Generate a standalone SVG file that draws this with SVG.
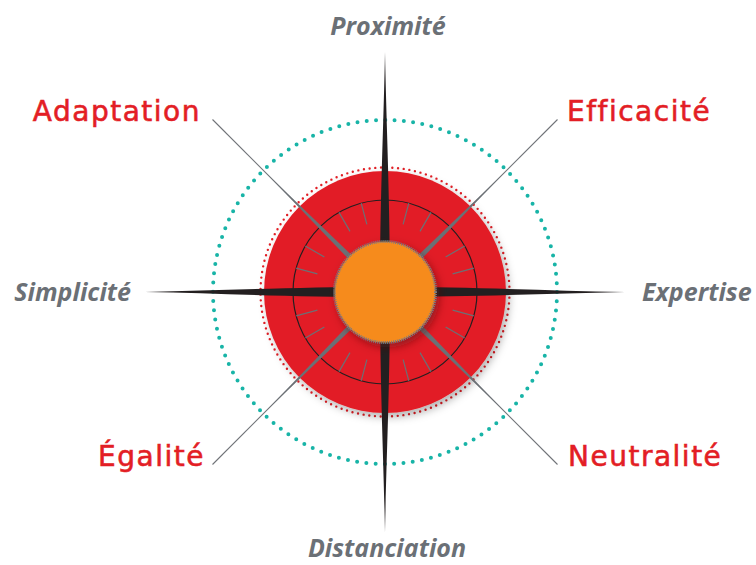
<svg xmlns="http://www.w3.org/2000/svg" width="756" height="565" viewBox="0 0 756 565">
  <defs>
    <style>
      .axis { font-family: "Open Sans", "Liberation Sans", sans-serif; font-weight: 700; font-style: italic; font-size: 25px; fill: #6b7076; }
      .value { font-family: "DejaVu Sans", "Liberation Sans", sans-serif; font-size: 28px; letter-spacing: 1.5px; fill: #e31e25; stroke: #e31e25; stroke-width: 0.6px; }
      .tick { stroke: #6d7075; stroke-width: 1.2; }
      .guide { stroke: #707378; stroke-width: 1.1; }
      .spike { fill: #6b7075; }
      .needle { fill: #231f20; }
    </style>
    <filter id="discShadow" x="-30%" y="-30%" width="160%" height="160%">
      <feDropShadow dx="3" dy="4" stdDeviation="4" flood-color="#000" flood-opacity="0.3"/>
    </filter>
    <filter id="hubShadow" x="-40%" y="-40%" width="180%" height="180%">
      <feDropShadow dx="3" dy="4" stdDeviation="4" flood-color="#5a0a0a" flood-opacity="0.55"/>
    </filter>
  </defs>

  <!-- outer teal dotted ring -->
  <circle cx="385" cy="292" r="172" fill="none" stroke="#18b4a7" stroke-width="4" stroke-linecap="round" stroke-dasharray="0 9.316"/>

  <!-- connectors: diagonal guide lines to the red labels -->
  <g id="connectors">
    <line class="guide" x1="212.5" y1="119.5" x2="557.5" y2="464.5"/>
    <line class="guide" x1="557.5" y1="119.5" x2="212.5" y2="464.5"/>
  </g>

  <!-- red dial -->
  <g id="dial">
    <circle cx="385" cy="292" r="124.5" fill="none" stroke="#e31e25" stroke-width="2.4" stroke-linecap="round" stroke-dasharray="0 5.71"/>
    <circle cx="385" cy="292" r="121" fill="#e21d25" filter="url(#discShadow)"/>
    <circle cx="385" cy="292" r="92" fill="none" stroke="#231f20" stroke-width="1.2"/>
    <g transform="translate(385 292)">
      <line class="tick" x1="70" y1="0" x2="92" y2="0" transform="rotate(15)"/>
      <line class="tick" x1="70" y1="0" x2="92" y2="0" transform="rotate(30)"/>
      <line class="tick" x1="70" y1="0" x2="92" y2="0" transform="rotate(60)"/>
      <line class="tick" x1="70" y1="0" x2="92" y2="0" transform="rotate(75)"/>
      <line class="tick" x1="70" y1="0" x2="92" y2="0" transform="rotate(105)"/>
      <line class="tick" x1="70" y1="0" x2="92" y2="0" transform="rotate(120)"/>
      <line class="tick" x1="70" y1="0" x2="92" y2="0" transform="rotate(150)"/>
      <line class="tick" x1="70" y1="0" x2="92" y2="0" transform="rotate(165)"/>
      <line class="tick" x1="70" y1="0" x2="92" y2="0" transform="rotate(195)"/>
      <line class="tick" x1="70" y1="0" x2="92" y2="0" transform="rotate(210)"/>
      <line class="tick" x1="70" y1="0" x2="92" y2="0" transform="rotate(240)"/>
      <line class="tick" x1="70" y1="0" x2="92" y2="0" transform="rotate(255)"/>
      <line class="tick" x1="70" y1="0" x2="92" y2="0" transform="rotate(285)"/>
      <line class="tick" x1="70" y1="0" x2="92" y2="0" transform="rotate(300)"/>
      <line class="tick" x1="70" y1="0" x2="92" y2="0" transform="rotate(330)"/>
      <line class="tick" x1="70" y1="0" x2="92" y2="0" transform="rotate(345)"/>
    </g>
  </g>

  <!-- grey diagonal spikes -->
  <g id="spikes" transform="translate(385 292)">
    <path class="spike" d="M-170,0 L0,-3.5 L170,0 L0,3.5 Z" transform="rotate(45)"/>
    <path class="spike" d="M-170,0 L0,-3.5 L170,0 L0,3.5 Z" transform="rotate(-45)"/>
  </g>

  <!-- black compass needles -->
  <g id="needles">
    <path class="needle" d="M385,52 C386.5,130 390,200 390,292 C390,384 386.5,454 385,532 C383.5,454 380,384 380,292 C380,200 383.5,130 385,52 Z"/>
    <path class="needle" d="M145,292 C223,290.5 293,287 385,287 C477,287 547,290.5 625,292 C547,293.5 477,297 385,297 C293,297 223,293.5 145,292 Z"/>
  </g>

  <!-- orange hub with serrated rim -->
  <g id="hub" filter="url(#hubShadow)">
    <circle cx="385" cy="292" r="50.5" fill="#f58a1f" stroke="#7b7d80" stroke-width="3" stroke-dasharray="1 1"/>
    <circle cx="385" cy="292" r="49" fill="#f68b1f"/>
  </g>

  <!-- axis labels -->
  <g id="label-proximite"><text class="axis" x="388" y="35" text-anchor="middle">Proximité</text></g>
  <g id="label-distanciation"><text class="axis" x="387" y="557" text-anchor="middle">Distanciation</text></g>
  <g id="label-simplicite"><text class="axis" x="131" y="301" text-anchor="end">Simplicité</text></g>
  <g id="label-expertise"><text class="axis" x="642" y="301">Expertise</text></g>

  <!-- value labels -->
  <g id="label-adaptation"><text class="value" x="201" y="121" text-anchor="end">Adaptation</text></g>
  <g id="label-efficacite"><text class="value" x="567" y="121">Efficacité</text></g>
  <g id="label-egalite"><text class="value" x="205" y="466" text-anchor="end">Égalité</text></g>
  <g id="label-neutralite"><text class="value" x="568" y="466">Neutralité</text></g>
</svg>
